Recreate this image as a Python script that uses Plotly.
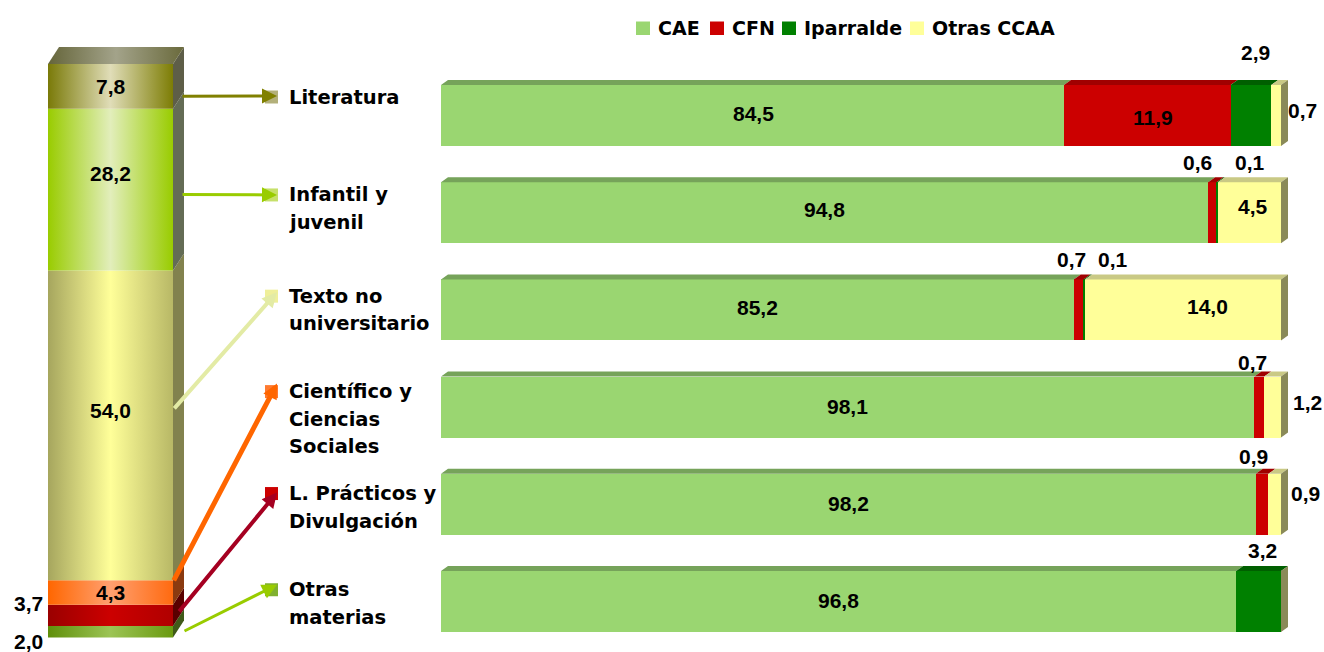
import plotly.graph_objects as go

# ---------------- data ----------------
categories = ["Literatura", "Infantil y juvenil", "Texto no universitario",
              "Científico y Ciencias Sociales", "L. Prácticos y Divulgación", "Otras materias"]
category_lines = [["Literatura"], ["Infantil y", "juvenil"], ["Texto no", "universitario"],
                  ["Científico y", "Ciencias", "Sociales"], ["L. Prácticos y", "Divulgación"],
                  ["Otras", "materias"]]
series = ["CAE", "CFN", "Iparralde", "Otras CCAA"]
cae = [84.5, 94.8, 85.2, 98.1, 98.2, 96.8]
cfn = [11.9, 0.6, 0.7, 0.7, 0.9, 0.0]
iparralde = [2.9, 0.1, 0.1, 0.0, 0.0, 3.2]
otras_ccaa = [0.7, 4.5, 14.0, 1.2, 0.9, 0.0]

# left column: share of each subject, bottom to top
share_order = [5, 4, 3, 2, 1, 0]          # index into categories
share_vals = [2.0, 3.7, 4.3, 54.0, 28.2, 7.8]

# ---------------- styling / geometry (page pixels) ----------------
W, H = 1324, 652
OFF = 0                      # body margin removed by post_script below
FW, FH = W - OFF, H - OFF    # figure size
TEXT_FONT = "DejaVu Sans"
NUM_FONT = "Liberation Sans"

R_LEFT = 441; R_PX = 14.0; R_XMIN = 40.0
ROW0 = 115.5; ROW_STEP = 97.2; BAR_PX = 61
DEPTH_X, DEPTH_Y = 7, 5

C_LEFT = 48; C_WIDTH = 125; C_BOTTOM = 637.5; C_PX = 5.735
C_DX, C_DY = 11, 17
C_DOMAIN_PX = 331

series_colors = ["#9ad671", "#cc0000", "#008000", "#ffff99"]
series_top = ["#76a35a", "#a00000", "#005f00", "#c9c985"]
end_side_color = "#8a8a58"

share_grad = [("#5f8f0a", "#9cc455", "#6a9a10"),
              ("#9a0000", "#cc0000", "#b00000"),
              ("#ff6600", "#ffa070", "#ff6a10"),
              ("#a6a65e", "#ffff99", "#b8b866"),
              ("#99cc00", "#e2eebb", "#99cc00"),
              ("#7a7a08", "#e0ddb8", "#7d7d05")]
share_side = ["#3f5a18", "#5a0000", "#8a3a10", "#82824e", "#646c55", "#5e5e48"]
top_grad = ("#65653a", "#a3a38a", "#6a6a3c")

square_colors = ["#b3b07a", "#c6e06a", "#efef9a", "#ff7a30", "#cc0000", "#80b030"]
arrow_colors = ["#808000", "#99cc00", "#e3eba5", "#ff6600", "#a50021", "#99cc00"]
arrow_widths = [3, 3, 4, 5, 4, 3]
arrow_tail_frac = [0.28, 0.47, 0.55, 0.93, 0.62, 0.5]
arrow_tail_dx = [8, 8, 0, 0, 5, 10]
arrow_head_dy = [-1, 0, -4, -8, -1, -5]
label_block_shift = [-18.5, -4, 0, 12, 3, 2]
LINE_STEP = 27.5

# value label offsets (screen px, +x right, +y down), default = centred inside
value_offsets = {
    (0, 0): (1, -2), (0, 1): (6, 2), (0, 2): (5, -63), (0, 3): (26, -5),
    (1, 0): (0, -3), (1, 1): (-15, -50), (1, 2): (33, -50), (1, 3): (3, -6),
    (2, 0): (0, -2), (2, 1): (-7, -50), (2, 2): (29, -50), (2, 3): (24, -3),
    (3, 0): (0, -1), (3, 1): (-7, -45), (3, 3): (35, -5),
    (4, 0): (0, -1), (4, 1): (-9, -48), (4, 3): (31, -11),
    (5, 0): (0, -1), (5, 2): (4, -51),
}
share_label_offsets = [(None, 10), (None, -12), (0, 0), (0, -15), (0, -16), (0, 0)]


def fmt(v):
    return f"{v:.1f}".replace(".", ",")


def rpx_y(r):
    return ROW0 + r * ROW_STEP


def cpx_y(v):
    return C_BOTTOM - v * C_PX


def pxx(x):          # page px -> paper fraction
    return (x - OFF) / FW


def pxy(y):
    return 1 - (y - OFF) / FH


x_range = [R_XMIN, R_XMIN + (FW - (R_LEFT - OFF)) / R_PX]
y_range = [(FH - (ROW0 - OFF)) / ROW_STEP, -(ROW0 - OFF) / ROW_STEP]
x2_range = [-(C_LEFT - OFF) / C_WIDTH, (C_DOMAIN_PX - (C_LEFT - OFF)) / C_WIDTH]
y2_range = [-(FH - (C_BOTTOM - OFF)) / C_PX, (C_BOTTOM - OFF) / C_PX]

fig = go.Figure()
rows = list(range(len(categories)))
series_vals = [cae, cfn, iparralde, otras_ccaa]
bw = BAR_PX / ROW_STEP

# ---- right: stacked horizontal bars ----
for name, vals, col in zip(series, series_vals, series_colors):
    fig.add_trace(go.Bar(y=rows, x=vals, orientation="h", name=name, width=bw,
                         marker=dict(color=col, line=dict(width=0)),
                         xaxis="x", yaxis="y", showlegend=False,
                         hovertemplate=name + ": %{x}<extra></extra>"))

ddx = DEPTH_X / R_PX
ddy = DEPTH_Y / ROW_STEP
for s, (vals, tc) in enumerate(zip(series_vals, series_top)):
    xs, ys = [], []
    for r in rows:
        start = sum(series_vals[k][r] for k in range(s))
        end = start + vals[r]
        if vals[r] <= 0 or end <= R_XMIN:
            continue
        x0 = max(start, R_XMIN)
        yt = r - bw / 2
        xs += [x0, end, end + ddx, x0 + ddx, x0, None]
        ys += [yt, yt, yt - ddy, yt - ddy, yt, None]
    fig.add_trace(go.Scatter(x=xs, y=ys, fill="toself", fillcolor=tc, mode="lines",
                             line=dict(width=0), hoverinfo="skip", showlegend=False,
                             xaxis="x", yaxis="y"))
# end caps
xs, ys = [], []
for r in rows:
    tot = sum(series_vals[k][r] for k in range(len(series)))
    yt, yb = r - bw / 2, r + bw / 2
    xs += [tot, tot + ddx, tot + ddx, tot, tot, None]
    ys += [yt, yt - ddy, yb - ddy, yb, yt, None]
fig.add_trace(go.Scatter(x=xs, y=ys, fill="toself", fillcolor=end_side_color, mode="lines",
                         line=dict(width=0), hoverinfo="skip", showlegend=False,
                         xaxis="x", yaxis="y"))

# ---- left: 3D stacked column ----
sdx = C_DX / C_WIDTH
sdy = C_DY / C_PX
cum = 0.0
bounds = []
for k, v in enumerate(share_vals):
    b, t = cum, cum + v
    bounds.append((b, t))
    c0, c1, c2 = share_grad[k]
    fig.add_trace(go.Scatter(x=[0, 1, 1, 0, 0], y=[b, b, t, t, b], fill="toself",
                             fillgradient=dict(type="horizontal",
                                               colorscale=[[0, c0], [0.5, c1], [1, c2]]),
                             mode="lines", line=dict(width=0), showlegend=False,
                             hovertemplate=categories[share_order[k]] + ": " + fmt(v) + "<extra></extra>",
                             xaxis="x2", yaxis="y2"))
    fig.add_trace(go.Scatter(x=[1, 1 + sdx, 1 + sdx, 1, 1], y=[b, b + sdy, t + sdy, t, b],
                             fill="toself", fillcolor=share_side[k], mode="lines",
                             line=dict(width=0), hoverinfo="skip", showlegend=False,
                             xaxis="x2", yaxis="y2"))
    cum = t
fig.add_trace(go.Scatter(x=[0, 1, 1 + sdx, sdx, 0], y=[cum, cum, cum + sdy, cum + sdy, cum],
                         fill="toself",
                         fillgradient=dict(type="horizontal",
                                           colorscale=[[0, top_grad[0]], [0.5, top_grad[1]], [1, top_grad[2]]]),
                         mode="lines", line=dict(width=0), hoverinfo="skip", showlegend=False,
                         xaxis="x2", yaxis="y2"))

annotations = []
shapes = []
numfont = dict(family=NUM_FONT, size=21, color="black", weight="bold")
textfont = dict(family=TEXT_FONT, size=19.5, color="black", weight="bold")

# value labels right
for s, vals in enumerate(series_vals):
    for r in rows:
        v = vals[r]
        if v <= 0:
            continue
        start = sum(series_vals[k][r] for k in range(s))
        xc = (max(start, R_XMIN) + start + v) / 2
        ox, oy = value_offsets.get((r, s), (0, -2))
        annotations.append(dict(x=xc, y=r, xref="x", yref="y", text="<b>" + fmt(v) + "</b>",
                                showarrow=False, font=numfont, xshift=ox, yshift=-oy,
                                xanchor="center", yanchor="middle"))

# value labels left column
for k, v in enumerate(share_vals):
    b, t = bounds[k]
    ox, oy = share_label_offsets[k]
    if ox is None:
        annotations.append(dict(x=0, y=(b + t) / 2, xref="x2", yref="y2", text="<b>" + fmt(v) + "</b>",
                                showarrow=False, font=numfont, xanchor="right", yanchor="middle",
                                xshift=-3, yshift=-oy))
    else:
        annotations.append(dict(x=0.5, y=(b + t) / 2, xref="x2", yref="y2", text="<b>" + fmt(v) + "</b>",
                                showarrow=False, font=numfont, xanchor="center", yanchor="middle",
                                xshift=ox, yshift=-oy))

# category labels, squares and arrows
for r in rows:
    lines = category_lines[r]
    first = rpx_y(r) + label_block_shift[r] - (len(lines) - 1) * LINE_STEP / 2
    for j, ln in enumerate(lines):
        annotations.append(dict(x=pxx(287), y=pxy(first + j * LINE_STEP), xref="paper", yref="paper",
                                text="<b>" + ln + "</b>", showarrow=False, font=textfont,
                                xanchor="left", yanchor="middle"))
    shapes.append(dict(type="rect", xref="paper", yref="paper",
                       x0=pxx(265), x1=pxx(278), y0=pxy(first - 6.5), y1=pxy(first + 6.5),
                       fillcolor=square_colors[r], line=dict(width=0)))
    k = share_order.index(r)
    b, t = bounds[k]
    tail_y = cpx_y(b + arrow_tail_frac[r] * (t - b))
    tail_x = C_LEFT + C_WIDTH + arrow_tail_dx[r]
    head_x, head_y = 277, first + arrow_head_dy[r]
    annotations.append(dict(x=pxx(head_x), y=pxy(head_y), xref="paper", yref="paper",
                            ax=tail_x - head_x, ay=tail_y - head_y, axref="pixel", ayref="pixel",
                            text="", showarrow=True, arrowhead=2, arrowwidth=arrow_widths[r],
                            arrowsize=3.0 / arrow_widths[r], arrowcolor=arrow_colors[r],
                            standoff=0, startstandoff=0))

# legend (manual)
legend_sq_x = [636, 710, 782, 910]
legfont = dict(family=TEXT_FONT, size=19, color="black", weight="bold")
for name, col, sx in zip(series, series_colors, legend_sq_x):
    shapes.append(dict(type="rect", xref="paper", yref="paper", x0=pxx(sx), x1=pxx(sx + 14),
                       y0=pxy(35), y1=pxy(21.5), fillcolor=col, line=dict(width=0)))
    annotations.append(dict(x=pxx(sx + 20), y=pxy(28), xref="paper", yref="paper",
                            text="<b>" + name + "</b>",
                            showarrow=False, font=legfont, xanchor="left", yanchor="middle"))

ax_common = dict(visible=False, showgrid=False, zeroline=False, fixedrange=True)
fig.update_layout(
    width=FW, height=FH, autosize=False,
    margin=dict(l=0, r=0, t=0, b=0, pad=0),
    paper_bgcolor="white", plot_bgcolor="white",
    barmode="stack", bargap=0, showlegend=False,
    xaxis=dict(domain=[(R_LEFT - OFF) / FW, 1], range=x_range, anchor="y", **ax_common),
    yaxis=dict(domain=[0, 1], range=y_range, anchor="x", **ax_common),
    xaxis2=dict(domain=[0, C_DOMAIN_PX / FW], range=x2_range, anchor="y2", **ax_common),
    yaxis2=dict(domain=[0, 1], range=y2_range, anchor="x2", **ax_common),
    annotations=annotations, shapes=shapes,
    font=dict(family=NUM_FONT, size=16, color="black"),
)

fig.write_html("out.html", config={"displayModeBar": False},
               post_script="document.body.style.margin='0';document.body.style.overflow='hidden';")
